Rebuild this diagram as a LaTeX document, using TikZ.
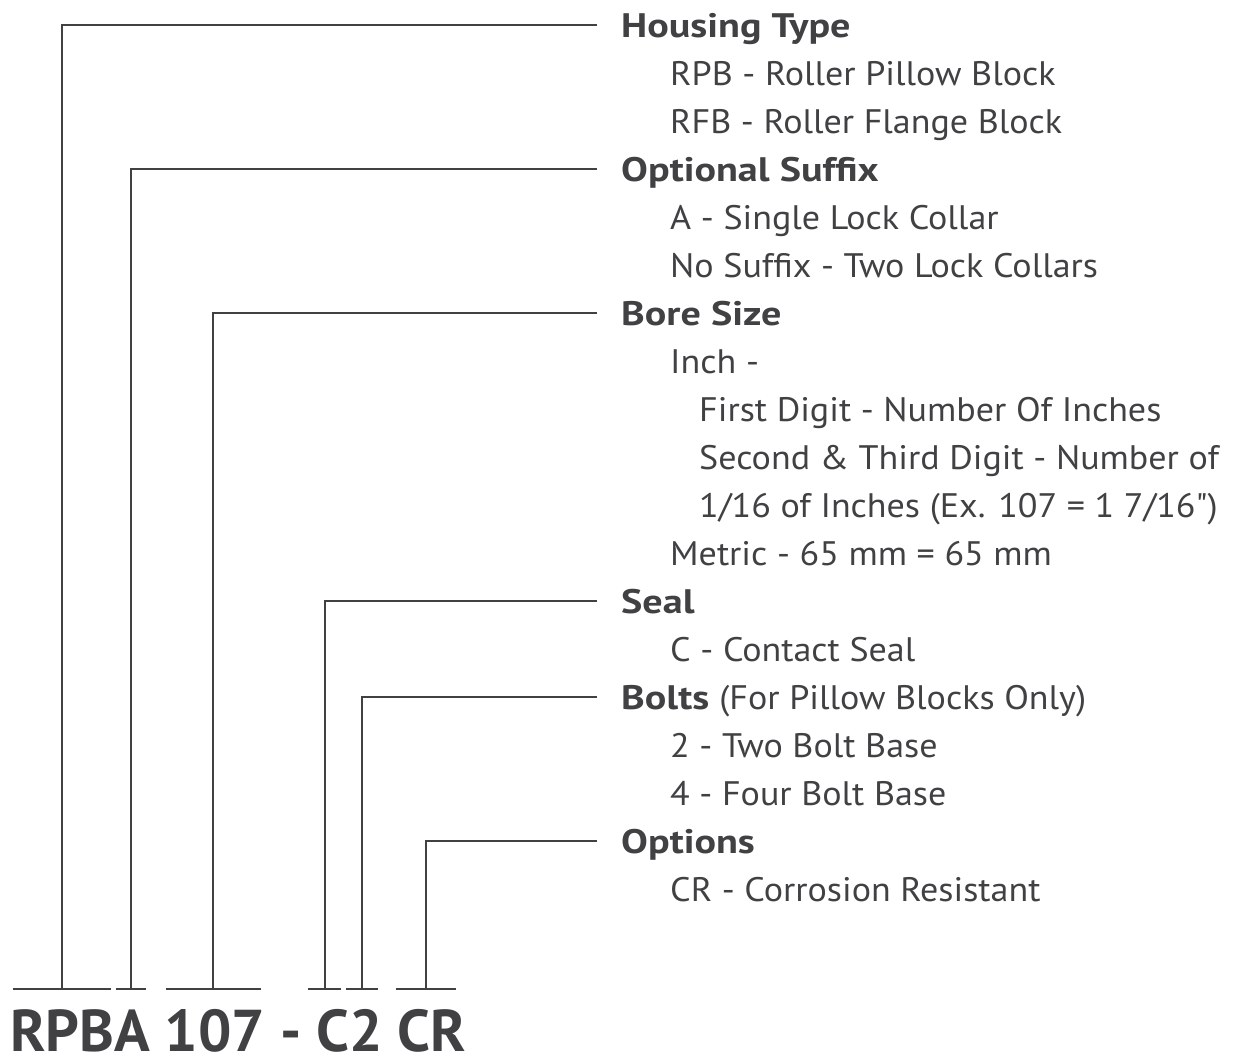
\documentclass[tikz,border=0pt]{standalone}
\usepackage{fontspec}
\setmainfont{PT Sans}[FakeStretch=1.06, Ligatures=TeXOff]
\newfontfamily\headfont{PT Sans Bold}[FakeStretch=1.18]
\newfontfamily\codefont{PT Sans Bold}
\usepackage{xcolor}
\definecolor{ink}{HTML}{414042}
\usepackage{tikz}
\usetikzlibrary{positioning}

\begin{document}
\begin{tikzpicture}[x=1pt, y=-1pt,
    leader/.style={draw=ink, line width=2pt},
    heading/.style={anchor=west, inner xsep=24pt, inner ysep=0pt,
      text height=24pt, text depth=0pt, text=ink,
      font=\fontsize{34}{40}\headfont},
    item/.style={anchor=base west, inner sep=0pt, text=ink,
      font=\fontsize{34}{40}\selectfont},
    code/.style={anchor=base west, inner sep=0pt, text=ink,
      font=\fontsize{59}{64}\codefont}]
  \useasboundingbox (0,0) rectangle (1236,1058);
  % Headings, leader ends at x = 597
  \node[heading] (house) at (597, 25) {Housing Type};
  \node[heading] (suffix) at (597, 169) {Optional Suffix};
  \node[heading] (bore) at (597, 313) {Bore Size};
  \node[heading] (seal) at (597, 601) {Seal};
  \node[heading] (bolts) at (597, 697) {Bolts {\normalfont(For Pillow Blocks Only)}};
  \node[heading] (opts) at (597, 841) {Options};
  % Entries under each heading
  \node[item] (rpb) at (670, 85) {RPB - Roller Pillow Block};
  \node[item] (rfb) at (670, 133) {RFB - Roller Flange Block};
  \node[item] (sfxa) at (670, 229) {A - Single Lock Collar};
  \node[item] (sfxn) at (670, 277) {No Suffix - Two Lock Collars};
  \node[item] (inch) at (670, 373) {Inch -};
  \node[item] (first) at (699, 421) {First Digit - Number Of Inches};
  \node[item] (second) at (699, 469) {Second \& Third Digit - Number of};
  \node[item] (frac) at (699, 517) {1/16 of Inches (Ex. 107 = 1 7/16")};
  \node[item] (metric) at (670, 565) {Metric - 65 mm = 65 mm};
  \node[item] (contact) at (670, 661) {C - Contact Seal};
  \node[item] (two) at (670, 757) {2 - Two Bolt Base};
  \node[item] (four) at (670, 805) {4 - Four Bolt Base};
  \node[item] (corr) at (670, 901) {CR - Corrosion Resistant};
  % Part number and brackets
  \node[code] (part) at (10, 1051) {RPBA 107 - C2 CR};
  \coordinate (tHouse) at (62, 989);
  \coordinate (tSuffix) at (131, 989);
  \coordinate (tBore) at (213, 989);
  \coordinate (tSeal) at (325, 989);
  \coordinate (tBolts) at (362, 989);
  \coordinate (tOpts) at (426, 989);
  \draw[leader] (13, 989) -- (111, 989);
  \draw[leader] (116, 989) -- (146, 989);
  \draw[leader] (166, 989) -- (261, 989);
  \draw[leader] (308, 989) -- (341, 989);
  \draw[leader] (346, 989) -- (378, 989);
  \draw[leader] (396, 989) -- (456, 989);
  \draw[leader] (tHouse) |- (house.west);
  \draw[leader] (tSuffix) |- (suffix.west);
  \draw[leader] (tBore) |- (bore.west);
  \draw[leader] (tSeal) |- (seal.west);
  \draw[leader] (tBolts) |- (bolts.west);
  \draw[leader] (tOpts) |- (opts.west);
\end{tikzpicture}
\end{document}
